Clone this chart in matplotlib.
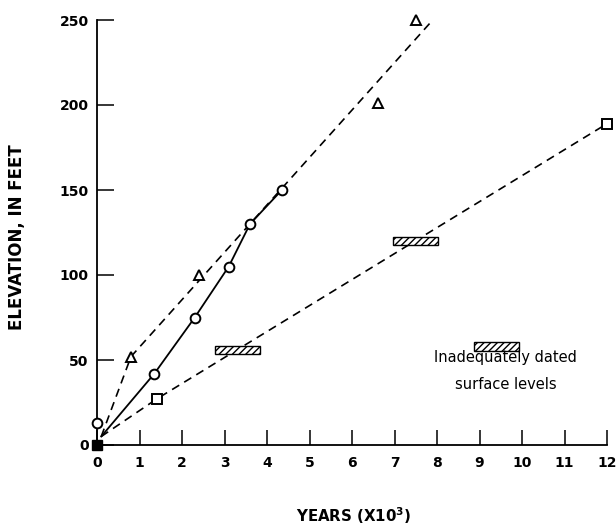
import matplotlib
matplotlib.use("Agg")
import matplotlib.pyplot as plt
from matplotlib.patches import Rectangle

plt.rcParams['font.family'] = ['DejaVu Sans']
plt.rcParams['hatch.linewidth'] = 1.0

# ---- data (years x 10^3, elevation in feet) ----
triangle_x = [0.8, 2.4, 6.6, 7.5]
triangle_y = [52, 100, 201, 250]
circle_x = [0.0, 1.35, 2.3, 3.1, 3.6, 4.35]
circle_y = [13, 42, 75, 105, 130, 150]
square_x = [1.4, 12.0]
square_y = [27, 189]
origin_x = [0.0]
origin_y = [0.0]

# trend lines
tri_line_x = [0.1, 0.8, 7.9]
tri_line_y = [5, 52, 250]
circ_line_x = [0.1, 1.35, 2.3, 3.1, 3.6, 4.35]
circ_line_y = [5, 42, 75, 105, 130, 150]
sq_line_x = [0.1, 1.4, 12.0]
sq_line_y = [5, 27, 189]

# inadequately dated surface levels (center x, center y)
hatch_x = [3.3, 7.5]
hatch_y = [56, 120]
legend_hatch_x = [9.4]
legend_hatch_y = [58]
legend_lines = ['Inadequately dated', 'surface levels']

x_ticks = list(range(0, 13))
y_ticks = [0, 50, 100, 150, 200, 250]

fig = plt.figure(figsize=(6.16, 5.25), dpi=100)
ax = fig.add_axes([97/616, 80/525, 510/616, 425/525])
ax.set_xlim(0, 12)
ax.set_ylim(0, 250)

dash = (0, (5, 3.5))
ax.plot(tri_line_x, tri_line_y, color='black', lw=1.2, linestyle=dash, zorder=2)
ax.plot(circ_line_x, circ_line_y, color='black', lw=1.3, linestyle='-', zorder=2)
ax.plot(sq_line_x, sq_line_y, color='black', lw=1.2, linestyle=dash, zorder=2)

ax.plot(triangle_x, triangle_y, linestyle='none', marker='^', ms=7,
        mfc='white', mec='black', mew=1.4, clip_on=False, zorder=4)
ax.plot(circle_x, circle_y, linestyle='none', marker='o', ms=7,
        mfc='white', mec='black', mew=1.4, clip_on=False, zorder=4)
ax.plot(square_x, square_y, linestyle='none', marker='s', ms=6.5,
        mfc='white', mec='black', mew=1.4, clip_on=False, zorder=4)
ax.plot(origin_x, origin_y, linestyle='none', marker='s', ms=6.5,
        mfc='black', mec='black', clip_on=False, zorder=4)

w, h = 1.05, 5
for cx, cy in list(zip(hatch_x, hatch_y)) + list(zip(legend_hatch_x, legend_hatch_y)):
    ax.add_patch(Rectangle((cx - w/2, cy - h/2), w, h, facecolor='white',
                           edgecolor='black', hatch='/////', lw=1.0, zorder=3))

ax.text(9.62, 51.5, legend_lines[0], ha='center', va='center', fontsize=10.5)
ax.text(9.62, 35.5, legend_lines[1], ha='center', va='center', fontsize=10.5)

for s in ['top', 'right']:
    ax.spines[s].set_visible(False)
for s in ['left', 'bottom']:
    ax.spines[s].set_linewidth(1.3)

ax.set_xticks(x_ticks)
ax.set_yticks(y_ticks)
ax.tick_params(axis='x', direction='in', length=11, width=1.1, pad=8, labelsize=10)
ax.tick_params(axis='y', direction='in', length=12, width=1.1, pad=6, labelsize=10)
for lab in ax.get_xticklabels() + ax.get_yticklabels():
    lab.set_fontweight('bold')

ax.set_xlabel('YEARS (X10$^\\mathbf{3}$)', fontsize=10.8, fontweight='bold', va='center')
ax.xaxis.set_label_coords(0.504, -0.167)
ax.set_ylabel('ELEVATION, IN FEET', fontsize=12, fontweight='bold', va='center')
ax.yaxis.set_label_coords(-0.157, 0.489)

fig.savefig('out.png', dpi=100)
